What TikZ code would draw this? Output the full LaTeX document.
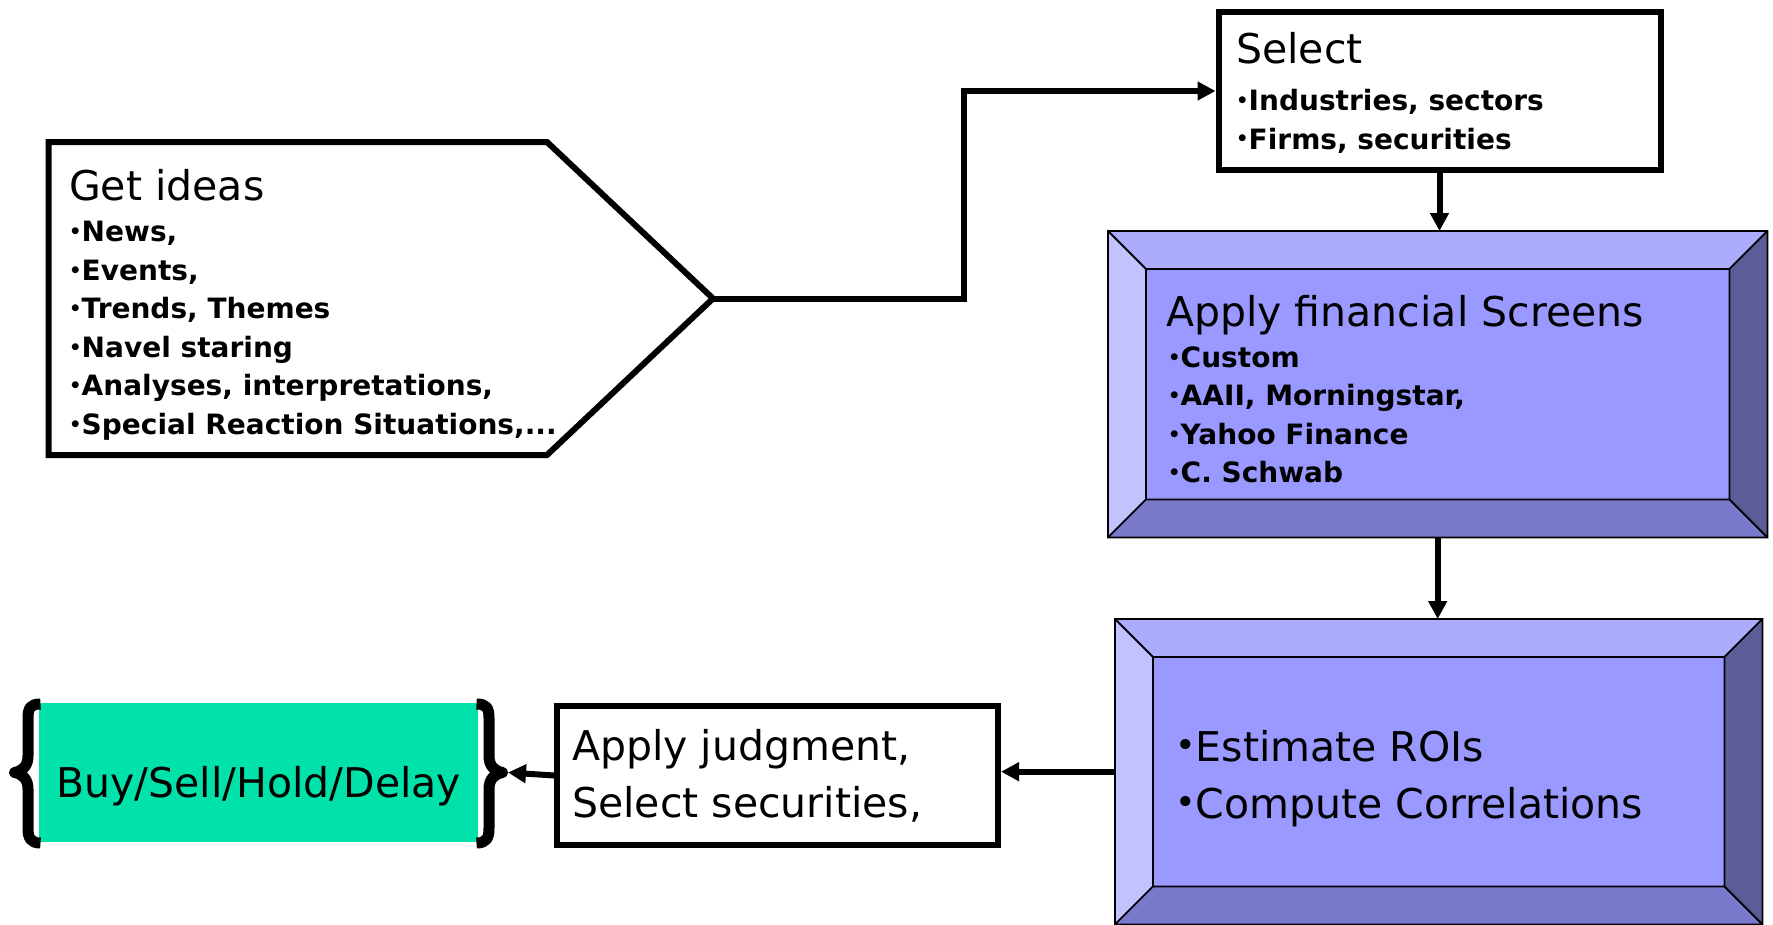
\documentclass[tikz,border=0pt]{standalone}
\usepackage{fontspec}
\setmainfont{DejaVu Sans}
\usetikzlibrary{arrows.meta,calc}
\definecolor{screenface}{RGB}{153,153,255}
\definecolor{beveltop}{RGB}{172,172,255}
\definecolor{bevelleft}{RGB}{194,194,255}
\definecolor{bevelbottom}{RGB}{122,122,204}
\definecolor{bevelright}{RGB}{92,92,153}
\definecolor{tradegreen}{RGB}{0,226,170}
\newcommand{\dotmark}[1][.7]{\raisebox{.11em}{\scalebox{#1}{•}}}
\tikzset{
  frame/.style={draw,line width=6pt,inner sep=0pt,anchor=north west},
  bevelbox/.style={fill=screenface,inner sep=0pt,anchor=north west},
  bevel top/.style={fill=beveltop},
  bevel left/.style={fill=bevelleft},
  bevel bottom/.style={fill=bevelbottom},
  bevel right/.style={fill=bevelright},
  bevel edge/.style={draw=black,line width=1.8pt},
  link/.style={line width=6pt,-{Triangle[length=18pt,width=18pt]}},
  curly/.style={line width=11pt,line join=round},
  heading/.style={font=\fontsize{41}{49}\selectfont,anchor=base west,inner sep=0pt},
  point/.style={font=\fontsize{28}{34}\selectfont\bfseries,anchor=base west,inner sep=0pt},
}
\begin{document}
\begin{tikzpicture}[x=1pt,y=-1pt]
  \useasboundingbox (0,0) rectangle (1773,924);
  \fill[white] (0,0) rectangle (1773,924);

  % idea sources, pointed to the right
  \draw[line width=6pt] (48.5,142) -- (547,142) -- (713,298.5) coordinate (ideas-tip)
    -- (547,455) -- (48.5,455) -- cycle;
  \node[heading] (ideas) at (69,200.7) {Get ideas};
  \foreach \txt [count=\i from 0] in {{News,},{Events,},{Trends, Themes},{Navel staring},
      {Analyses, interpretations,},{Special Reaction Situations,.\kern0pt.\kern0pt.}}
    \node[point] (idea-\i) at (69,241.7+38.5*\i) {\dotmark\txt};

  % select
  \node[frame,minimum width=442pt,minimum height=158pt] (select) at (1215.5,9) {};
  \node[heading] (select-head) at (1236,63.3) {Select};
  \foreach \txt [count=\i from 0] in {{Industries, sectors},{Firms, securities}}
    \node[point] (select-\i) at (1236,110.5+38.5*\i) {\dotmark\txt};

  % the two bevelled boxes
  \node[bevelbox,minimum width=659pt,minimum height=306pt] (screens) at (1108,231) {};
  \node[bevelbox,minimum width=647pt,minimum height=305pt] (estimate) at (1115,619) {};
  \foreach \b in {screens,estimate}{
    \path (\b.north west) ++(38,38) coordinate (\b-nw)
          (\b.north east) ++(-38,38) coordinate (\b-ne)
          (\b.south east) ++(-38,-38) coordinate (\b-se)
          (\b.south west) ++(38,-38) coordinate (\b-sw);
    \fill[bevel top] (\b.north west) -- (\b.north east) -- (\b-ne) -- (\b-nw) -- cycle;
    \fill[bevel left] (\b.north west) -- (\b-nw) -- (\b-sw) -- (\b.south west) -- cycle;
    \fill[bevel right] (\b.north east) -- (\b.south east) -- (\b-se) -- (\b-ne) -- cycle;
    \fill[bevel bottom] (\b.south west) -- (\b-sw) -- (\b-se) -- (\b.south east) -- cycle;
    \draw[bevel edge] (\b.north west) rectangle (\b.south east) (\b-nw) rectangle (\b-se)
      (\b.north west) -- (\b-nw) (\b.north east) -- (\b-ne)
      (\b.south east) -- (\b-se) (\b.south west) -- (\b-sw);
  }
  \node[heading] (screens-head) at (1166,326.7) {Apply financial Screens};
  \foreach \txt [count=\i from 0] in {Custom,{AAII, Morningstar,},Yahoo Finance,C. Schwab}
    \node[point] (screens-\i) at (1168,367.3+38.5*\i) {\dotmark\txt};
  \foreach \txt [count=\i from 0] in {Estimate ROIs,Compute Correlations}
    \node[heading] (estimate-\i) at (1175,761.7+57*\i) {\dotmark[.85]\txt};

  % judgment
  \node[frame,minimum width=441pt,minimum height=139pt] (judge) at (554,703) {};
  \node[heading] (judge-0) at (572,760) {Apply judgment,};
  \node[heading] (judge-1) at (572,817) {Select securities,};

  % decision between braces
  \node[fill=tradegreen,inner sep=0pt,anchor=north west,minimum width=439pt,minimum height=139pt]
    (hold) at (39,703) {};
  \node[heading,anchor=base] (hold-text) at (hold.center |- 0,797) {Buy/Sell/Hold/Delay};
  \foreach \side/\sx in {39.5/1,477.5/-1}
    \draw[curly,shift={(\side,0)},xscale=\sx] (1,704) .. controls (-9,704) and (-11.5,708) .. (-11.5,718)
      -- (-11.5,756) .. controls (-11.5,766) and (-17,771) .. (-25,772.5)
      .. controls (-17,774) and (-11.5,779) .. (-11.5,789) -- (-11.5,828)
      .. controls (-11.5,838) and (-9,843) .. (1,843);
  \coordinate (hold-tip) at (508,772.5);

  % flow
  \draw[link] (ideas-tip) -| ($(ideas-tip)!.5!(select.west)$) |- (select.west);
  \draw[link] (select.south) -- (select.south |- screens.north);
  \draw[link] (screens.south) -- (screens.south |- estimate.north);
  \draw[link] (estimate.west) -- (estimate.west -| judge.east);
  \draw[link] (judge.west) -- (hold-tip);
\end{tikzpicture}
\end{document}
